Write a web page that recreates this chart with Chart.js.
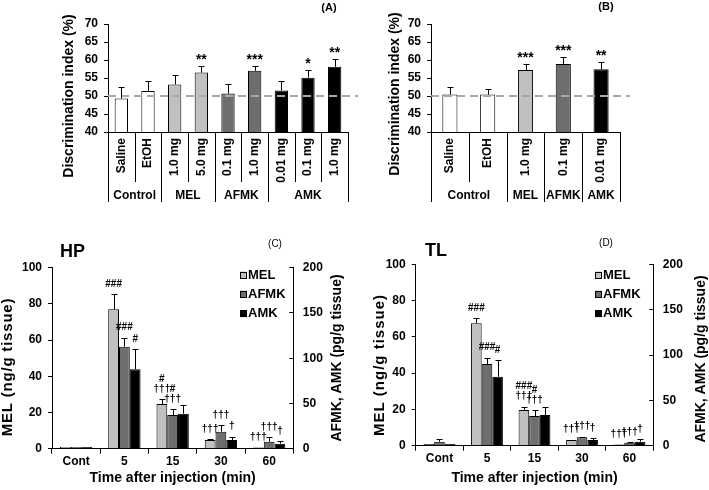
<!DOCTYPE html>
<html>
<head>
<meta charset="utf-8">
<script src="https://cdn.jsdelivr.net/npm/chart.js@4.4.0/dist/chart.umd.min.js"></script>
<style>
  html, body { margin: 0; padding: 0; background: #fff; width: 709px; height: 490px; overflow: hidden; }
  canvas { position: absolute; left: 0; top: 0; }
</style>
</head>
<body>
<canvas id="chartA" width="720" height="490"></canvas>
<canvas id="chartB" width="720" height="490"></canvas>
<canvas id="chartC" width="720" height="490"></canvas>
<canvas id="chartD" width="720" height="490"></canvas>
<script>
// (A) discrimination index, dose groups
const aLabels = ['Saline', 'EtOH', '1.0 mg', '5.0 mg', '0.1 mg', '1.0 mg', '0.01 mg', '0.1 mg', '1.0 mg'];
const aGroups = ['Control', 'MEL', 'AFMK', 'AMK'];
const aGroupSizes = [2, 2, 2, 3];
const aValues = [49.3, 51.4, 53.2, 56.5, 50.7, 57.0, 51.5, 55.1, 58.1];
const aErrors = [3.1, 2.9, 2.5, 1.8, 2.6, 1.4, 2.8, 2.1, 2.2];
const aStars = ['', '', '', '**', '', '***', '', '*', '**'];

// (B) discrimination index, single doses
const bLabels = ['Saline', 'EtOH', '1.0 mg', '0.1 mg', '0.01 mg'];
const bGroups = ['Control', 'MEL', 'AFMK', 'AMK'];
const bGroupSizes = [2, 1, 1, 1];
const bValues = [50.4, 50.4, 57.2, 58.9, 57.4];
const bErrors = [2.0, 1.5, 1.6, 1.8, 2.0];
const bStars = ['', '', '***', '***', '**'];

const diMin = 40, diMax = 70, diStep = 5, chanceLevel = 50;

// (C) HP and (D) TL tissue levels
const timeLabels = ['Cont', '5', '15', '30', '60'];
const seriesNames = ['MEL', 'AFMK', 'AMK'];

const hpMel = [1.0, 77.0, 24.7, 4.8, 0.6];
const hpMelErr = [0, 8.3, 2.6, 0.6, 0];
const hpAfmk = [2.0, 112.7, 37.2, 18.8, 7.7];
const hpAfmkErr = [0, 10.0, 6.3, 7.4, 4.9];
const hpAmk = [2.0, 87.7, 38.7, 9.6, 5.5];
const hpAmkErr = [0, 22.1, 9.3, 3.7, 2.5];
const hpMelSig = [[], ['###'], ['#', '†††'], ['†††'], ['†††']];
const hpAfmkSig = [[], ['###'], ['#', '†††'], ['†††'], ['†††']];
const hpAmkSig = [[], ['#'], [], ['†'], ['†']];

const tlMel = [0.9, 67.5, 19.7, 3.1, 0.6];
const tlMelErr = [0, 2.7, 1.8, 0.2, 0];
const tlAfmk = [4.4, 90.1, 32.7, 9.3, 3.3];
const tlAfmkErr = [3.0, 7.0, 6.7, 0.6, 0.8];
const tlAmk = [1.8, 76.1, 33.8, 6.3, 4.4];
const tlAmkErr = [0, 18.4, 9.2, 1.9, 2.6];
const tlMelSig = [[], ['###'], ['###', '†††'], ['†††'], ['†††']];
const tlAfmkSig = [[], ['###'], ['#', '†††'], ['†††'], ['†††']];
const tlAmkSig = [[], ['#'], [], ['†'], ['†']];

const melMax = 100, melStep = 20, metMax = 200, metStep = 50;

// Styles
const FAM = '"Liberation Sans", Arial, Helvetica, sans-serif';
const groupFill = ['#ffffff', '#c0c0c0', '#6e6e6e', '#000000'];
const seriesFill = ['#c0c0c0', '#6e6e6e', '#000000'];
const tickFont = { family: FAM, size: 12, weight: 'bold' };

Chart.defaults.font.family = FAM;
Chart.defaults.font.size = 12;
Chart.defaults.font.weight = 'bold';
Chart.defaults.color = '#000';

// one fill per bar, taken from its group
function expandColors(sizes) {
    const out = [];
    sizes.forEach((n, g) => { for (let i = 0; i < n; i++) out.push(groupFill[g]); });
    return out;
}

function drawText(ctx, t) {
    ctx.save();
    ctx.font = t.f;
    ctx.fillStyle = '#000';
    ctx.textAlign = t.align || 'center';
    ctx.textBaseline = 'middle';
    if (t.spacing) ctx.letterSpacing = t.spacing + 'px';
    ctx.translate(t.x, t.y);
    if (t.rot) ctx.rotate(t.rot);
    ctx.fillText(t.text, 0, 0);
    ctx.restore();
}

// Free text: panel letters, region names, axis titles
function textLayer(items) {
    return {
        id: 'texts',
        afterDraw(chart) { items.forEach(t => drawText(chart.ctx, t)); }
    };
}

// Upper error bars and significance marks above them
function errorBars(cfg) {
    return {
        id: 'errorBars',
        afterDatasetsDraw(chart) {
            const ctx = chart.ctx;
            chart.data.datasets.forEach((ds, i) => {
                const meta = chart.getDatasetMeta(i);
                const yScale = chart.scales[meta.yAxisID];
                meta.data.forEach((bar, j) => {
                    const err = ds.errors ? ds.errors[j] : 0;
                    const yTop = yScale.getPixelForValue(ds.data[j] + err);
                    const x = Math.round(bar.x) + 0.5;
                    if (err > 0) {
                        ctx.save();
                        ctx.strokeStyle = '#000';
                        ctx.lineWidth = 1;
                        ctx.beginPath();
                        ctx.moveTo(x, bar.y);
                        ctx.lineTo(x, Math.round(yTop) + 0.5);
                        ctx.moveTo(x - cfg.cap, Math.round(yTop) + 0.5);
                        ctx.lineTo(x + cfg.cap, Math.round(yTop) + 0.5);
                        ctx.stroke();
                        ctx.restore();
                    }
                    let marks = ds.marks ? ds.marks[j] : null;
                    if (!marks || !marks.length) return;
                    if (typeof marks === 'string') marks = [marks];
                    const n = marks.length;
                    marks.forEach((m, k) => {
                        drawText(ctx, { text: m, f: cfg.markFont, x: bar.x, y: yTop - cfg.gap - (n - 1 - k) * cfg.step });
                    });
                });
            });
        }
    };
}

// Dashed chance line at 50 %
function refLine(value, extend) {
    return {
        id: 'refLine',
        afterDatasetsDraw(chart) {
            const { ctx, chartArea } = chart;
            const y = chart.scales.y.getPixelForValue(value);
            ctx.save();
            ctx.strokeStyle = '#a8a8a8';
            ctx.lineWidth = 2;
            ctx.setLineDash([8, 5]);
            ctx.beginPath();
            ctx.moveTo(chartArea.left, y);
            ctx.lineTo(chartArea.right + extend, y);
            ctx.stroke();
            ctx.restore();
        }
    };
}

// Category table under panels A and B: rotated dose labels, group names, dividers
function groupTable(groups, sizes, cfg) {
    return {
        id: 'groupTable',
        afterDraw(chart) {
            const { ctx, chartArea } = chart;
            const xs = chart.scales.x;
            const top = chartArea.bottom;
            chart.data.labels.forEach((lab, i) => {
                drawText(ctx, { text: lab, f: 'bold 12px ' + FAM, x: xs.getPixelForValue(i), y: top + cfg.labelPad, rot: -Math.PI / 2, align: 'right' });
            });
            const groupEdges = [0];
            sizes.forEach(n => groupEdges.push(groupEdges[groupEdges.length - 1] + n));
            ctx.save();
            ctx.strokeStyle = '#000';
            ctx.lineWidth = 1;
            for (let i = 0; i <= chart.data.labels.length; i++) {
                const x = Math.round(xs.getPixelForValue(i - 0.5)) + 0.5;
                const full = groupEdges.includes(i);
                ctx.beginPath();
                ctx.moveTo(x, top);
                ctx.lineTo(x, full ? cfg.groupBottom : cfg.itemBottom);
                ctx.stroke();
            }
            ctx.restore();
            groups.forEach((g, gi) => {
                const x0 = xs.getPixelForValue(groupEdges[gi] - 0.5);
                const x1 = xs.getPixelForValue(groupEdges[gi + 1] - 0.5);
                drawText(ctx, { text: g, f: 'bold 12px ' + FAM, x: (x0 + x1) / 2, y: cfg.groupY });
            });
        }
    };
}

// Boxed legend inside panels C and D
function boxLegend(cfg) {
    return {
        id: 'boxLegend',
        afterDraw(chart) {
            const ctx = chart.ctx;
            chart.data.datasets.forEach((ds, i) => {
                const y = cfg.y + i * cfg.step;
                ctx.save();
                ctx.fillStyle = ds.backgroundColor;
                ctx.strokeStyle = '#000';
                ctx.lineWidth = 1;
                ctx.fillRect(cfg.x, y - 3.5, 7, 7);
                ctx.strokeRect(cfg.x + 0.5, Math.round(y - 3.5) + 0.5, 6, 6);
                ctx.restore();
                drawText(ctx, { text: ds.label, f: 'bold 13px ' + FAM, x: cfg.x + 8, y: y, align: 'left' });
            });
        }
    };
}

const axisLine = { display: true, color: '#000', width: 1 };

function diChart(id, labels, values, errors, stars, groups, sizes, barPct, pad, yWidth, texts) {
    return new Chart(document.getElementById(id), {
        type: 'bar',
        data: {
            labels: labels,
            datasets: [{
                data: values,
                errors: errors,
                marks: stars,
                backgroundColor: expandColors(sizes),
                borderColor: '#000',
                borderWidth: 1,
                categoryPercentage: 1,
                barPercentage: barPct
            }]
        },
        options: {
            responsive: false,
            animation: false,
            devicePixelRatio: 1,
            layout: { padding: pad },
            plugins: { legend: { display: false }, tooltip: { enabled: false } },
            scales: {
                x: {
                    grid: { display: false, drawTicks: false },
                    border: axisLine,
                    ticks: { display: false },
                    afterFit(s) { s.height = 70; }
                },
                y: {
                    min: diMin, max: diMax,
                    ticks: { stepSize: diStep, padding: 6, font: tickFont },
                    grid: { drawOnChartArea: false, tickLength: 4, color: '#000' },
                    border: axisLine,
                    afterFit(s) { s.width = yWidth; }
                }
            }
        },
        plugins: [
            refLine(chanceLevel, 10),
            errorBars({ cap: 3, markFont: 'bold 14px ' + FAM, gap: 6, step: 12 }),
            groupTable(groups, sizes, { labelPad: 6, itemBottom: 182, groupBottom: 202, groupY: 196 }),
            textLayer(texts)
        ]
    });
}

function tissueChart(id, mel, melErr, melSig, afmk, afmkErr, afmkSig, amk, amkErr, amkSig, layout, texts, legendPos) {
    const base = { borderColor: '#000', borderWidth: 1, categoryPercentage: 0.67, barPercentage: 1 };
    return new Chart(document.getElementById(id), {
        type: 'bar',
        data: {
            labels: timeLabels,
            datasets: [
                Object.assign({ label: seriesNames[0], data: mel, errors: melErr, marks: melSig, yAxisID: 'y', backgroundColor: seriesFill[0] }, base),
                Object.assign({ label: seriesNames[1], data: afmk, errors: afmkErr, marks: afmkSig, yAxisID: 'y2', backgroundColor: seriesFill[1] }, base),
                Object.assign({ label: seriesNames[2], data: amk, errors: amkErr, marks: amkSig, yAxisID: 'y2', backgroundColor: seriesFill[2] }, base)
            ]
        },
        options: {
            responsive: false,
            animation: false,
            devicePixelRatio: 1,
            layout: { padding: layout.pad },
            plugins: { legend: { display: false }, tooltip: { enabled: false } },
            scales: {
                x: {
                    grid: { drawOnChartArea: false, tickLength: 5, color: '#000', offset: true },
                    border: axisLine,
                    ticks: { padding: 1, font: tickFont },
                    title: { display: true, text: 'Time after injection (min)', font: { family: FAM, size: 14, weight: 'bold' }, padding: 0 },
                    afterFit(s) { s.height = layout.xHeight; }
                },
                y: {
                    position: 'left',
                    min: 0, max: melMax,
                    ticks: { stepSize: melStep, padding: 6, font: tickFont },
                    grid: { drawOnChartArea: false, tickLength: 4, color: '#000' },
                    border: axisLine,
                    afterFit(s) { s.width = layout.yWidth; }
                },
                y2: {
                    position: 'right',
                    min: 0, max: metMax,
                    ticks: { stepSize: metStep, padding: 13.5, font: tickFont },
                    grid: { drawOnChartArea: false, tickLength: -4, color: '#000' },
                    border: axisLine,
                    afterFit(s) { s.width = 40; }
                }
            }
        },
        plugins: [
            errorBars({ cap: 3, markFont: 'bold 10px ' + FAM, gap: 10, step: 10 }),
            boxLegend(legendPos),
            textLayer(texts)
        ]
    });
}

const ROT = -Math.PI / 2;

diChart('chartA', aLabels, aValues, aErrors, aStars, aGroups, aGroupSizes, 0.5,
    { left: 60, top: 24, right: 372, bottom: 288 }, 48, [
        { text: '(A)', f: 'bold 11px ' + FAM, x: 329, y: 8 },
        { text: 'Discrimination index (%)', f: 'bold 14px ' + FAM, x: 69, y: 96, rot: ROT }
    ]);

diChart('chartB', bLabels, bValues, bErrors, bStars, bGroups, bGroupSizes, 0.4,
    { left: 383, top: 24, right: 100, bottom: 288 }, 48, [
        { text: '(B)', f: 'bold 11px ' + FAM, x: 606, y: 7 },
        { text: 'Discrimination index (%)', f: 'bold 14px ' + FAM, x: 395, y: 94, rot: ROT }
    ]);

tissueChart('chartC', hpMel, hpMelErr, hpMelSig, hpAfmk, hpAfmkErr, hpAfmkSig, hpAmk, hpAmkErr, hpAmkSig,
    { pad: { left: 0, top: 267.7, right: 386.7, bottom: 3.6 }, yWidth: 52, xHeight: 37.7 }, [
        { text: '(C)', f: '10px ' + FAM, x: 275, y: 244 },
        { text: 'HP', f: 'bold 18px ' + FAM, x: 60, y: 252, align: 'left' },
        { text: 'MEL (ng/g tissue)', f: 'bold 15px ' + FAM, x: 8, y: 367, rot: ROT, spacing: 0.8 },
        { text: 'AFMK, AMK (pg/g tissue)', f: 'bold 14px ' + FAM, x: 337, y: 358, rot: ROT }
    ], { x: 240, y: 275, step: 19.3 });

tissueChart('chartD', tlMel, tlMelErr, tlMelSig, tlAfmk, tlAfmkErr, tlAfmkSig, tlAmk, tlAmkErr, tlAmkSig,
    { pad: { left: 371.7, top: 264.3, right: 26.7, bottom: 3.6 }, yWidth: 44, xHeight: 40.7 }, [
        { text: '(D)', f: '10px ' + FAM, x: 606, y: 243 },
        { text: 'TL', f: 'bold 18px ' + FAM, x: 425, y: 251, align: 'left' },
        { text: 'MEL (ng/g tissue)', f: 'bold 15px ' + FAM, x: 380, y: 365, rot: ROT, spacing: 1 },
        { text: 'AFMK, AMK (pg/g tissue)', f: 'bold 14px ' + FAM, x: 701, y: 359, rot: ROT }
    ], { x: 595, y: 275, step: 19.3 });
</script>
</body>
</html>
